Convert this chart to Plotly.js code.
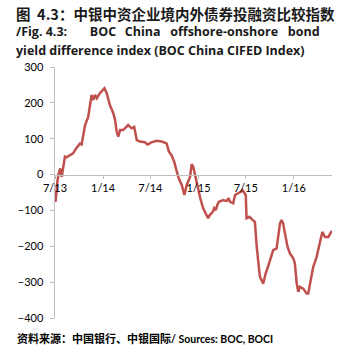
<!DOCTYPE html>
<html>
<head>
<meta charset="utf-8">
<script src="https://cdn.plot.ly/plotly-3.0.1.min.js"></script>
<style>html,body{margin:0;padding:0;background:#fff;}#chart{width:354px;height:363px;}</style>
</head>
<body>
<div id="chart"></div>
<script>
// Index observations (date, value)
var dates = [
 "2013-07-01","2013-07-03","2013-07-10","2013-07-15","2013-07-21","2013-07-27","2013-08-02","2013-08-08","2013-08-14",
 "2013-08-27","2013-09-08","2013-09-20","2013-10-05","2013-10-11","2013-10-24","2013-11-05","2013-11-18","2013-11-25","2013-12-01",
 "2013-12-08","2013-12-20","2014-01-06","2014-01-15","2014-01-27","2014-02-09","2014-02-16","2014-02-22",
 "2014-02-28","2014-03-07","2014-03-19","2014-03-26","2014-04-07","2014-04-20","2014-04-30","2014-05-10",
 "2014-05-22","2014-06-10","2014-06-20","2014-06-29","2014-07-05","2014-07-25","2014-08-13","2014-09-01","2014-09-10",
 "2014-09-20","2014-09-30","2014-10-10","2014-10-18","2014-10-29","2014-11-08","2014-11-17","2014-11-30",
 "2014-12-06","2014-12-12","2014-12-19","2014-12-31","2015-01-08","2015-01-19","2015-02-01","2015-02-07",
 "2015-02-13","2015-02-25","2015-03-02","2015-03-08","2015-03-14","2015-03-20","2015-04-06","2015-04-19","2015-04-26",
 "2015-05-02","2015-05-14","2015-05-21","2015-06-02","2015-06-12","2015-06-18","2015-06-24","2015-07-01",
 "2015-07-04","2015-07-15","2015-07-28","2015-08-05",
 "2015-08-12","2015-08-18","2015-08-24","2015-09-06","2015-09-15","2015-09-25","2015-10-08","2015-10-14",
 "2015-10-27","2015-11-02","2015-11-09","2015-11-15","2015-11-21","2015-11-28","2015-12-08","2015-12-17",
 "2015-12-30","2016-01-05","2016-01-12","2016-01-18","2016-01-24","2016-02-06","2016-02-19","2016-02-25",
 "2016-03-03","2016-03-15","2016-03-28","2016-04-03","2016-04-10","2016-04-19","2016-04-29","2016-05-12",
 "2016-05-25"
];
var values = [
 -60,-76,-20,3,17,-6,22,50,48,
 54,59,73,87,84,138,161,222,208,222,
 213,227,241,227,194,171,152,120,
 106,124,124,129,138,129,133,96,
 92,90,84,87,90,94,92,87,64,
 54,36,8,-11,-29,-57,-29,-6,
 29,22,-1,-43,-66,-94,-113,-122,
 -113,-104,-94,-99,-85,-76,-71,-74,-66,
 -76,-80,-57,-52,-48,-43,-48,-57,
 -122,-118,-127,-132,
 -202,-239,-285,-304,-276,-255,-225,-211,
 -206,-174,-136,-127,-136,-164,-202,-220,
 -234,-248,-304,-327,-313,-318,-332,-332,
 -304,-258,-230,-211,-188,-160,-174,-174,
 -157
];
var xTickVals = ["2013-07-01","2014-01-01","2014-07-01","2015-01-01","2015-07-01","2016-01-01"];
var xTickText = ["7/13","1/14","7/14","1/15","7/15","1/16"];
var yTickVals = [300,200,100,0,-100,-200,-300,-400];

var titleLine1 = "图\u00a0\u00a04.3：中银中资企业境内外债券投融资比较指数";
var titleLine2 = "/Fig.\u00a04.3:\u00a0\u00a0\u00a0\u00a0\u00a0\u00a0\u00a0BOC\u00a0\u00a0\u2009China\u00a0\u00a0\u00a0offshore-onshore\u00a0\u00a0\u00a0bond";
var titleLine3 = "yield difference index (BOC China CIFED Index)";
var sourceText = "资料来源：中国银行、中银国际<span style=\"font-family:Lato;font-size:10.5px\">/ Sources: BOC, BOCI</span>";

var yMin = -400, yMax = 300;
var W = 354, H = 363, L = 55, R = 22, T = 67, B = 45;
var pw = W - L - R, ph = H - T - B;
function px(x){ return (x - L) / pw; }
function py(y){ return (H - B - y) / ph; }

var trace = {
  x: dates, y: values, type: 'scatter', mode: 'lines',
  line: {color: '#C0504D', width: 2.5}, hoverinfo: 'skip'
};

var tf = {family: 'Open Sans, Noto Sans CJK SC, sans-serif', size: 12.5, color: '#1a1a1a', weight: 'bold'};
var layout = {
  width: W, height: H,
  margin: {l: L, r: R, t: T, b: B, pad: 0},
  paper_bgcolor: '#fff', plot_bgcolor: '#fff',
  showlegend: false,
  font: {family: 'Lato, sans-serif', size: 10.5, color: '#000'},
  xaxis: {
    type: 'date', range: ['2013-07-01', '2016-05-26'],
    tickvals: xTickVals, ticktext: xTickText,
    showgrid: false, zeroline: false,
    showline: true, linecolor: '#BFBFBF', linewidth: 1.5,
    ticks: 'outside', ticklen: 3, tickcolor: '#BFBFBF', tickwidth: 1,
    anchor: 'free', position: (0 - yMin) / (yMax - yMin),
    tickfont: {family: 'Lato, sans-serif', size: 11, color: '#000'}
  },
  yaxis: {
    range: [yMin, yMax], tickvals: yTickVals,
    showgrid: false, zeroline: false,
    showline: true, linecolor: '#BFBFBF', linewidth: 1.5,
    ticks: 'outside', ticklen: 4, tickcolor: '#BFBFBF', tickwidth: 1,
    ticklabelstandoff: 4,
    tickfont: {family: 'Lato, sans-serif', size: 11, color: '#000'}
  },
  annotations: [
    {text: titleLine1, xref: 'paper', yref: 'paper', x: px(14), y: py(14), xanchor: 'left', yanchor: 'middle', showarrow: false,
     font: {family: 'Noto Sans CJK SC, sans-serif', size: 14.5, color: '#1a1a1a', weight: 'bold'}},
    {text: titleLine2, xref: 'paper', yref: 'paper', x: px(14), y: py(32), xanchor: 'left', yanchor: 'middle', showarrow: false, font: tf},
    {text: titleLine3, xref: 'paper', yref: 'paper', x: px(14), y: py(50), xanchor: 'left', yanchor: 'middle', showarrow: false, font: tf},
    {text: sourceText, xref: 'paper', yref: 'paper', x: px(15), y: py(338), xanchor: 'left', yanchor: 'middle', showarrow: false,
     font: {family: 'Noto Sans CJK SC, sans-serif', size: 11, color: '#000', weight: 'bold'}}
  ]
};

Plotly.newPlot('chart', [trace], layout, {displayModeBar: false, staticPlot: true});
</script>
</body>
</html>
